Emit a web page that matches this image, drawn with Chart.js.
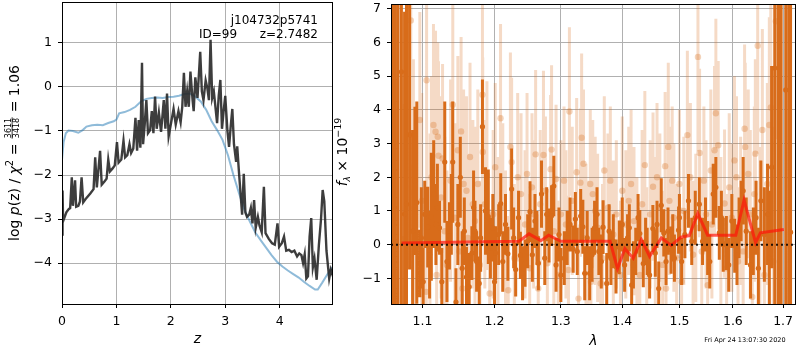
<!DOCTYPE html>
<html>
<head>
<meta charset="utf-8">
<script src="https://cdn.jsdelivr.net/npm/chart.js@4.4.1/dist/chart.umd.min.js"></script>
<style>
  html, body { margin: 0; padding: 0; background: #fff; }
  #wrap { position: relative; width: 800px; height: 350px; overflow: hidden; }
  canvas { position: absolute; top: 0; }
  #pz { left: 0; }
  #spec { left: 330px; }
</style>
</head>
<body>
<div id="wrap">
  <canvas id="pz" width="340" height="350"></canvas>
  <canvas id="spec" width="470" height="350"></canvas>
</div>
<script>
// ---- left panel: log p(z) ----
const zTicks = [0, 1, 2, 3, 4];
const pTicks = [-4, -3, -2, -1, 0, 1];

// smooth prior-like curve (blue)  [z, log p]
const blueCurve = [[0.00,-1.65],[0.03,-1.25],[0.07,-1.05],[0.12,-0.99],[0.20,-1.00],[0.30,-1.04],[0.38,-0.98],[0.45,-0.90],[0.55,-0.87],[0.65,-0.86],[0.75,-0.87],[0.85,-0.82],[0.95,-0.78],[1.00,-0.74],[1.05,-0.60],[1.15,-0.57],[1.25,-0.52],[1.35,-0.45],[1.45,-0.33],[1.55,-0.27],[1.65,-0.25],[1.75,-0.24],[1.85,-0.25],[1.95,-0.23],[2.05,-0.22],[2.15,-0.20],[2.25,-0.16],[2.35,-0.15],[2.45,-0.22],[2.55,-0.33],[2.65,-0.52],[2.75,-0.78],[2.85,-0.98],[2.95,-1.20],[3.05,-1.55],[3.15,-2.00],[3.25,-2.40],[3.35,-2.78],[3.45,-3.05],[3.55,-3.30],[3.65,-3.48],[3.75,-3.65],[3.85,-3.82],[3.95,-3.97],[4.05,-4.08],[4.15,-4.17],[4.25,-4.25],[4.35,-4.33],[4.45,-4.43],[4.55,-4.52],[4.65,-4.60],[4.70,-4.60],[4.78,-4.45],[4.88,-4.25],[4.98,-4.08]];

// jagged p(z) curve (dark)  [z, log p]
const darkCurve = [[0.00,-3.35],[0.01,-2.35],[0.02,-3.05],[0.05,-2.95],[0.08,-2.85],[0.12,-2.78],[0.15,-2.75],[0.18,-2.05],[0.20,-2.70],[0.24,-2.12],[0.26,-2.72],[0.30,-2.70],[0.33,-2.60],[0.36,-2.05],[0.39,-2.62],[0.45,-2.52],[0.52,-2.42],[0.58,-2.32],[0.61,-1.60],[0.64,-2.28],[0.70,-1.45],[0.73,-2.22],[0.78,-2.15],[0.82,-2.08],[0.85,-1.65],[0.88,-1.92],[0.93,-1.85],[0.97,-1.78],[1.01,-1.25],[1.04,-1.72],[1.09,-1.65],[1.13,-1.22],[1.16,-1.60],[1.20,-1.55],[1.24,-1.30],[1.27,-1.50],[1.31,-1.40],[1.35,-0.70],[1.38,-1.45],[1.41,-0.75],[1.44,-1.38],[1.47,0.55],[1.49,-1.30],[1.52,-0.85],[1.55,-0.30],[1.58,-1.05],[1.62,-0.98],[1.65,-0.55],[1.68,-1.05],[1.71,-0.22],[1.74,-0.95],[1.78,-0.58],[1.82,-1.02],[1.85,-0.60],[1.87,-0.30],[1.90,-0.95],[1.93,-0.15],[1.96,-1.12],[2.00,-0.85],[2.05,-0.50],[2.09,-0.85],[2.14,-0.55],[2.18,-0.80],[2.21,-0.45],[2.24,0.32],[2.27,-0.45],[2.30,-0.10],[2.33,-0.45],[2.36,0.35],[2.40,-0.30],[2.42,-0.55],[2.45,0.22],[2.49,-0.25],[2.54,0.80],[2.57,-0.10],[2.60,-0.30],[2.64,0.15],[2.67,-0.02],[2.70,-0.30],[2.73,1.07],[2.76,-0.25],[2.79,-0.10],[2.85,-0.82],[2.88,-0.20],[2.91,0.16],[2.94,-0.95],[2.97,-0.55],[3.00,-0.20],[3.04,-1.00],[3.07,-1.36],[3.10,-0.90],[3.13,-0.50],[3.16,-1.30],[3.20,-1.70],[3.22,-1.35],[3.25,-1.90],[3.28,-2.40],[3.31,-2.90],[3.34,-1.97],[3.37,-2.85],[3.40,-2.95],[3.44,-2.90],[3.47,-2.75],[3.50,-3.10],[3.53,-2.57],[3.56,-3.20],[3.60,-2.95],[3.63,-3.15],[3.67,-3.30],[3.71,-2.27],[3.74,-3.32],[3.80,-3.45],[3.86,-3.55],[3.91,-3.58],[3.96,-3.10],[3.99,-3.63],[4.04,-3.55],[4.08,-3.40],[4.12,-3.72],[4.17,-3.70],[4.22,-3.75],[4.27,-3.72],[4.32,-3.85],[4.36,-3.78],[4.40,-3.82],[4.43,-4.00],[4.46,-3.80],[4.49,-4.35],[4.52,-4.30],[4.55,-3.40],[4.58,-2.98],[4.61,-4.10],[4.64,-3.90],[4.68,-4.38],[4.72,-3.60],[4.76,-3.00],[4.79,-2.34],[4.82,-2.60],[4.86,-3.72],[4.91,-4.35],[4.94,-4.15],[4.98,-4.30]];

// ---- right panel: spectrum ----
const lamTicks = [1.1, 1.2, 1.3, 1.4, 1.5, 1.6, 1.7];
const fluxTicks = [-1, 0, 1, 2, 3, 4, 5, 6, 7];

// good pixels  [lambda, flux, err]
const specGood = [[1.0603,9.0,12],[1.0641,-3.0,12],[1.0680,8.0,12],[1.0724,5.13,9],[1.0765,0.91,6],[1.0790,1.20,6],[1.0830,3.26,4],[1.0870,0.40,3],[1.0900,1.89,2.2],[1.0925,1.25,3.0],[1.0965,-0.56,1.0],[1.1010,-1.10,1.0],[1.1030,0.90,1.0],[1.1070,0.52,1.2],[1.1118,0.83,1.9],[1.1150,1.50,1.6],[1.1180,0.60,1.2],[1.1229,0.50,0.8],[1.1260,-1.10,1.0],[1.1300,2.45,1.8],[1.1364,0.26,1.0],[1.1409,2.45,1.8],[1.1454,-1.70,1.0],[1.1514,2.00,1.2],[1.1570,0.40,1.0],[1.1600,-0.96,0.9],[1.1638,-1.25,1.0],[1.1676,-0.25,0.8],[1.1720,0.40,0.9],[1.1743,-0.50,0.9],[1.1780,-1.15,0.8],[1.1826,3.50,1.4],[1.1870,1.00,1.3],[1.1910,0.83,1.4],[1.1940,-0.10,0.9],[1.2000,-1.10,0.9],[1.2015,-0.25,0.8],[1.2090,1.22,0.9],[1.2120,-0.50,0.9],[1.2195,-0.27,0.8],[1.2250,1.65,1.2],[1.2310,-0.74,0.8],[1.2353,0.80,0.8],[1.2380,-0.32,0.7],[1.2413,-0.85,0.8],[1.2450,-0.55,0.7],[1.2525,0.98,0.9],[1.2600,0.70,0.8],[1.2652,-0.55,0.8],[1.2700,1.50,1.0],[1.2750,-0.40,0.8],[1.2816,0.27,0.8],[1.2855,0.86,0.9],[1.2890,1.74,0.9],[1.2925,-0.60,0.8],[1.3054,-0.40,0.8],[1.3145,0.60,0.8],[1.3195,-0.13,0.7],[1.3230,0.76,0.8],[1.3260,-0.20,0.7],[1.3315,0.85,0.8],[1.3350,0.53,0.8],[1.3380,-0.85,0.8],[1.3460,-0.85,0.8],[1.3540,0.50,0.8],[1.3610,-0.20,0.7],[1.3680,0.52,0.8],[1.3740,-1.15,0.9],[1.3810,-0.40,0.8],[1.3895,-0.65,0.8],[1.3950,-0.08,0.8],[1.4000,0.60,0.8],[1.4090,0.20,0.7],[1.4160,-1.20,0.8],[1.4230,-0.20,0.7],[1.4300,0.33,0.7],[1.4360,-0.56,0.7],[1.4428,-0.20,0.7],[1.4527,0.48,0.7],[1.4570,-0.25,0.7],[1.4630,-1.30,0.8],[1.4675,1.17,0.8],[1.4720,0.35,0.7],[1.4795,0.40,0.7],[1.4850,-0.16,0.7],[1.4910,-0.40,0.7],[1.4985,0.43,0.7],[1.5040,-0.50,0.7],[1.5165,1.30,0.8],[1.5225,0.10,0.7],[1.5290,0.80,0.8],[1.5365,1.20,0.8],[1.5425,0.10,0.7],[1.5560,-0.50,0.8],[1.5625,1.50,0.9],[1.5675,1.70,0.9],[1.5740,0.35,0.8],[1.5815,0.00,0.8],[1.5875,0.05,0.8],[1.6035,-0.03,0.8],[1.6120,0.50,0.9],[1.6200,1.60,1.0],[1.6345,-0.60,1.0],[1.6454,0.80,1.1],[1.6550,1.30,1.2],[1.6684,0.90,1.5],[1.6766,2.30,3.0],[1.6830,5.24,9],[1.6900,-2.0,12],[1.6960,8.0,12],[1.7055,4.59,10],[1.7120,-3.0,12],[1.7154,0.37,10],
  [1.0985,0.2,1.5],[1.1095,-0.3,1.3],[1.1200,1.1,1.3],[1.1330,-0.5,1.2],[1.1390,0.9,1.2],[1.1480,0.6,1.2],[1.1540,-0.7,1.1],[1.1700,1.1,1.1],[1.1800,0.2,1.0],[1.1975,0.5,1.0],[1.2060,0.3,0.9],[1.2160,0.6,0.9],[1.2280,0.2,0.9],[1.2490,0.1,0.8],[1.2560,-0.3,0.8],[1.2630,0.2,0.8],[1.2780,0.9,0.8],[1.2970,0.3,0.8],[1.3000,-0.9,0.8],[1.3100,0.2,0.8],[1.3420,0.2,0.8],[1.3500,-0.3,0.8],[1.3580,0.9,0.8],[1.3650,-0.5,0.8],[1.3780,0.4,0.8],[1.3850,0.1,0.8],[1.4040,-0.6,0.8],[1.4120,0.5,0.7],[1.4190,-0.6,0.7],[1.4270,0.8,0.7],[1.4400,0.1,0.7],[1.4470,-0.9,0.7],[1.4600,0.6,0.7],[1.4760,-0.5,0.7],[1.4880,0.2,0.7],[1.5000,0.8,0.7],[1.5100,0.3,0.7],[1.5480,0.6,0.8],[1.5520,-0.1,0.8],[1.5780,0.8,0.8],[1.5920,-0.6,0.8],[1.5980,0.7,0.8],[1.6080,-0.3,0.9],[1.6160,1.0,0.9],[1.6260,0.4,1.0],[1.6400,0.1,1.0],[1.6500,-0.7,1.2],[1.6620,0.3,1.4],[1.6720,-0.4,2.0]];

// faint pixels  [lambda, flux, err]
const specFaint = [[1.0620,3.0,6],[1.0760,0.17,4],[1.0846,6.65,3.5],[1.0870,1.55,3.2],[1.0880,2.30,3.2],[1.0965,3.70,3.2],[1.1050,-1.40,2.8],[1.1055,4.88,3.2],[1.1100,0.50,2.8],[1.1147,3.55,3.0],[1.1175,3.35,3.0],[1.1205,3.20,2.8],[1.1215,2.64,2.8],[1.1270,2.56,2.8],[1.1330,-0.60,2.8],[1.1410,4.15,3.2],[1.1480,2.80,2.8],[1.1525,3.36,2.8],[1.1545,-1.30,2.5],[1.1560,1.80,2.8],[1.1600,1.60,2.8],[1.1620,0.20,2.5],[1.1690,1.20,2.5],[1.1760,1.80,2.8],[1.1826,4.45,2.8],[1.1830,2.75,2.8],[1.1890,2.05,2.8],[1.1930,-1.45,2.5],[1.2050,0.40,2.2],[1.2087,3.75,2.8],[1.2200,-1.35,2.2],[1.2232,2.90,2.8],[1.2250,2.45,2.5],[1.2340,2.00,2.5],[1.2450,0.60,2.2],[1.2555,1.70,2.2],[1.2610,2.68,2.5],[1.2650,-1.30,2.2],[1.2680,1.20,2.2],[1.2730,2.66,2.5],[1.2790,-0.55,2.2],[1.2840,2.24,2.2],[1.2855,2.82,2.5],[1.2925,1.95,2.2],[1.3000,0.90,2.2],[1.3050,1.90,2.2],[1.3120,-0.75,2.2],[1.3135,3.95,2.5],[1.3250,2.15,2.2],[1.3280,-1.60,2.2],[1.3310,1.84,2.2],[1.3330,3.17,2.5],[1.3400,0.20,2.2],[1.3470,1.80,2.2],[1.3480,-1.10,2.2],[1.3550,1.00,2.2],[1.3640,-1.15,2.2],[1.3700,2.20,2.2],[1.3760,1.10,2.2],[1.3850,0.30,2.2],[1.4000,1.60,2.2],[1.4110,1.30,2.2],[1.4200,0.70,2.2],[1.4300,-0.90,2.0],[1.4387,2.36,2.2],[1.4480,0.90,2.2],[1.4530,1.72,2.2],[1.4600,2.00,2.2],[1.4744,2.33,2.2],[1.4760,-1.30,2.2],[1.4800,2.90,2.5],[1.4820,1.30,2.2],[1.4900,0.80,2.2],[1.5000,1.80,2.2],[1.5040,-1.10,2.2],[1.5145,3.25,2.5],[1.5250,-0.30,2.2],[1.5340,5.57,2.8],[1.5370,2.72,2.5],[1.5450,1.90,2.2],[1.5520,-1.20,2.2],[1.5600,0.60,2.2],[1.5650,2.80,2.5],[1.5675,3.90,2.8],[1.5720,2.95,2.5],[1.5840,1.22,2.2],[1.5930,1.70,2.2],[1.6030,2.50,2.5],[1.6100,-0.50,2.2],[1.6150,1.00,2.2],[1.6228,3.44,2.5],[1.6240,2.90,2.5],[1.6300,2.10,2.5],[1.6380,-1.55,2.5],[1.6440,2.70,2.8],[1.6487,5.90,3.2],[1.6580,3.40,3.0],[1.6620,-0.90,2.5],[1.6720,3.55,3.2],[1.6750,4.07,3.2],[1.6852,6.63,3.5],
  [1.0900,0.9,3.2],[1.0990,1.3,3.2],[1.1120,2.0,3.0],[1.1190,-0.9,2.8],[1.1250,1.4,3.0],[1.1300,0.4,2.8],[1.1380,1.9,3.0],[1.1440,0.8,2.8],[1.1500,-0.2,2.8],[1.1650,2.6,2.8],[1.1720,0.7,2.8],[1.1790,-0.6,2.5],[1.1860,1.2,2.5],[1.1980,0.9,2.5],[1.2010,2.3,2.5],[1.2120,1.1,2.5],[1.2160,0.0,2.2],[1.2290,-0.4,2.2],[1.2390,1.5,2.4],[1.2480,2.1,2.4],[1.2520,-0.7,2.2],[1.2580,0.9,2.2],[1.2760,1.6,2.2],[1.2890,0.4,2.2],[1.2960,-0.9,2.2],[1.3080,0.6,2.2],[1.3180,1.3,2.2],[1.3360,2.4,2.2],[1.3430,-0.3,2.2],[1.3510,1.5,2.2],[1.3590,0.5,2.2],[1.3670,-0.4,2.2],[1.3800,1.9,2.2],[1.3900,0.9,2.2],[1.3970,-0.9,2.2],[1.4060,0.6,2.2],[1.4150,1.8,2.2],[1.4250,-0.2,2.2],[1.4340,1.2,2.2],[1.4420,-0.5,2.2],[1.4570,0.4,2.2],[1.4650,1.1,2.2],[1.4700,-0.6,2.2],[1.4870,1.9,2.2],[1.4950,-0.4,2.2],[1.5080,1.0,2.2],[1.5200,2.0,2.2],[1.5300,0.5,2.2],[1.5410,-0.2,2.2],[1.5490,0.9,2.2],[1.5580,2.2,2.4],[1.5770,0.4,2.2],[1.5880,-0.7,2.2],[1.5980,0.8,2.2],[1.6070,2.0,2.4],[1.6200,-0.2,2.4],[1.6340,0.9,2.5],[1.6420,1.5,2.6],[1.6530,0.3,2.6],[1.6680,1.8,3.0],[1.6800,-0.5,4]];

// best-fit template  [lambda, flux]
const modelCurve = [[1.0726,0.05],[1.236,0.10],[1.251,0.32],[1.269,0.12],[1.281,0.28],[1.300,0.10],[1.3796,0.10],[1.392,-0.71],[1.4045,-0.12],[1.4186,-0.40],[1.4327,0.15],[1.447,-0.35],[1.4676,0.20],[1.4852,-0.02],[1.503,0.22],[1.518,0.27],[1.5336,0.93],[1.552,0.28],[1.6056,0.28],[1.6218,1.32],[1.6445,0.06],[1.654,0.35],[1.7015,0.45]];

const LAM_MIN = 1.059, LAM_MAX = 1.7267;
const ORANGE = 'rgb(216,108,26)';
const ORANGE_FAINT = 'rgba(216,108,26,0.25)';
const FONT = '"DejaVu Sans", Verdana, sans-serif';

function xy(rows) { return rows.map(r => ({ x: r[0], y: r[1] })); }
function errSegments(rows) {
  const out = [];
  rows.forEach(([l, f, e]) => out.push({ x: l, y: f - e }, { x: l, y: f + e }, { x: l, y: null }));
  return out;
}
function minusFmt(v) { return v < 0 ? '\u2212' + Math.abs(v) : String(v); }

// draws a run of text pieces, centred on 0, baseline at 0
function drawPieces(ctx, pieces) {
  let w = 0;
  pieces.forEach(p => {
    ctx.font = p.font;
    p.w = p.frac
      ? Math.max(ctx.measureText(p.frac[0]).width, ctx.measureText(p.frac[1]).width) + 2
      : ctx.measureText(p.t).width;
    w += p.w;
  });
  let x = -w / 2;
  pieces.forEach(p => {
    ctx.font = p.font;
    if (p.frac) {
      ctx.textAlign = 'center';
      ctx.fillText(p.frac[0], x + p.w / 2, -8.2);
      ctx.fillText(p.frac[1], x + p.w / 2, 0.2);
      ctx.fillRect(x + 0.5, -7.3, p.w - 1, 0.8);
      ctx.textAlign = 'left';
    } else {
      ctx.textAlign = 'left';
      ctx.fillText(p.t, x, p.dy || 0);
    }
    x += p.w;
  });
}

function frame(chart) {
  const a = chart.chartArea, ctx = chart.ctx;
  ctx.save();
  ctx.strokeStyle = '#000';
  ctx.lineWidth = 1;
  ctx.strokeRect(a.left + 0.5, a.top + 0.5, a.right - a.left - 1, a.bottom - a.top);
  ctx.restore();
}

const leftDecor = {
  id: 'leftDecor',
  afterDraw(chart) {
    frame(chart);
    const ctx = chart.ctx;
    ctx.save();
    ctx.fillStyle = '#000';
    ctx.font = '12px ' + FONT;
    ctx.textBaseline = 'alphabetic';
    ctx.textAlign = 'right';
    ctx.fillText('j104732p5741', 318, 24);
    ctx.fillText('z=2.7482', 318, 38);
    ctx.textAlign = 'left';
    ctx.fillText('ID=99', 199, 38);
    ctx.font = 'italic 14px ' + FONT;
    ctx.textAlign = 'center';
    ctx.fillText('z', (chart.chartArea.left + chart.chartArea.right) / 2, 343);
    ctx.translate(19, 153);
    ctx.rotate(-Math.PI / 2);
    const big = '14px ' + FONT, it = 'italic 14px ' + FONT, sm = '8px ' + FONT;
    drawPieces(ctx, [
      { t: 'log ', font: big }, { t: 'p', font: it }, { t: '(z) / ', font: big },
      { t: '\u03c7', font: it }, { t: '2', font: '10px ' + FONT, dy: -6 },
      { t: ' = ', font: big }, { frac: ['3611', '3418'], font: sm }, { t: ' = 1.06', font: big }
    ]);
    ctx.restore();
  }
};

const rightDecor = {
  id: 'rightDecor',
  afterDraw(chart) {
    frame(chart);
    const ctx = chart.ctx;
    ctx.save();
    ctx.fillStyle = '#000';
    ctx.textBaseline = 'alphabetic';
    ctx.font = 'italic 14px ' + FONT;
    ctx.textAlign = 'center';
    ctx.fillText('\u03bb', (chart.chartArea.left + chart.chartArea.right) / 2, 345);
    ctx.font = '6.5px ' + FONT;
    ctx.fillText('Fri Apr 24 13:07:30 2020', 415, 342);
    ctx.translate(17, 152);
    ctx.rotate(-Math.PI / 2);
    const big = '14px ' + FONT;
    drawPieces(ctx, [
      { t: 'f', font: 'italic 14px ' + FONT }, { t: '\u03bb', font: 'italic 9px ' + FONT, dy: 3 },
      { t: ' \u00d7 10', font: big }, { t: '\u221219', font: '9.5px ' + FONT, dy: -6 }
    ]);
    ctx.restore();
  }
};

// fixed axis thickness, no extra label padding so plot areas land where they should
function fixX(h) { return s => { s.height = h; s.paddingLeft = 0; s.paddingRight = 0; }; }
function fixY(w) { return s => { s.width = w; s.paddingTop = 0; s.paddingBottom = 0; }; }

function axisCommon(ticks, fmt, z) {
  return {
    z: z,
    afterBuildTicks: s => { s.ticks = ticks.map(v => ({ value: v })); },
    grid: { color: '#b0b0b0', lineWidth: 1, tickColor: '#000', tickLength: 4, drawTicks: true },
    border: { display: false },
    ticks: { color: '#000', font: { family: FONT, size: 12.5 }, autoSkip: false, maxRotation: 0, padding: 6, callback: fmt }
  };
}

new Chart(document.getElementById('pz'), {
  type: 'line',
  data: {
    datasets: [
      { data: xy(darkCurve), borderColor: 'rgba(40,40,40,0.9)', borderWidth: 2.4, pointRadius: 0, tension: 0, clip: 0 },
      { data: xy(blueCurve), borderColor: 'rgba(31,119,180,0.5)', borderWidth: 2, pointRadius: 0, tension: 0, clip: 0 }
    ]
  },
  options: {
    responsive: false, animation: false, devicePixelRatio: 1, events: [],
    layout: { padding: { top: 2, right: 7, left: 0, bottom: 0 } },
    plugins: { legend: { display: false }, tooltip: { enabled: false } },
    scales: {
      x: Object.assign(axisCommon(zTicks, v => minusFmt(v), 0), {
        type: 'linear', min: 0, max: 4.98, afterFit: fixX(46)
      }),
      y: Object.assign(axisCommon(pTicks, v => minusFmt(v), 0), {
        type: 'linear', min: -4.93, max: 1.93, afterFit: fixY(62)
      })
    }
  },
  plugins: [leftDecor]
});

new Chart(document.getElementById('spec'), {
  type: 'line',
  data: {
    datasets: [
      { data: [{ x: LAM_MIN, y: 0 }, { x: LAM_MAX, y: 0 }], borderColor: 'rgba(0,0,0,0.85)', borderWidth: 2, borderDash: [2, 3], pointRadius: 0, clip: 0 },
      { data: xy(modelCurve), borderColor: 'rgba(255,20,10,0.7)', borderWidth: 3, pointRadius: 0, tension: 0, clip: 0 },
      { data: specGood.map(r => ({ x: r[0], y: r[1] })), showLine: false, pointRadius: 2.6, pointBackgroundColor: ORANGE, pointBorderWidth: 0, clip: 0 },
      { data: errSegments(specGood), borderColor: ORANGE, borderWidth: 3, borderCapStyle: 'butt', pointRadius: 0, spanGaps: false, clip: 0 },
      { data: specFaint.map(r => ({ x: r[0], y: r[1] })), showLine: false, pointRadius: 3.2, pointBackgroundColor: 'rgba(216,108,26,0.3)', pointBorderWidth: 0, clip: 0 },
      { data: errSegments(specFaint), borderColor: ORANGE_FAINT, borderWidth: 3, borderCapStyle: 'butt', pointRadius: 0, spanGaps: false, clip: 0 }
    ]
  },
  options: {
    responsive: false, animation: false, devicePixelRatio: 1, events: [],
    layout: { padding: { top: 2, right: 1, left: 0, bottom: 0 } },
    plugins: { legend: { display: false }, tooltip: { enabled: false } },
    scales: {
      x: Object.assign(axisCommon(lamTicks, v => Number(v).toFixed(1), 1), {
        type: 'logarithmic', min: LAM_MIN, max: LAM_MAX, afterFit: fixX(46)
      }),
      y: Object.assign(axisCommon(fluxTicks, v => minusFmt(v), 1), {
        type: 'linear', min: -1.76, max: 7.14, afterFit: fixY(61)
      })
    }
  },
  plugins: [rightDecor]
});
</script>
</body>
</html>
